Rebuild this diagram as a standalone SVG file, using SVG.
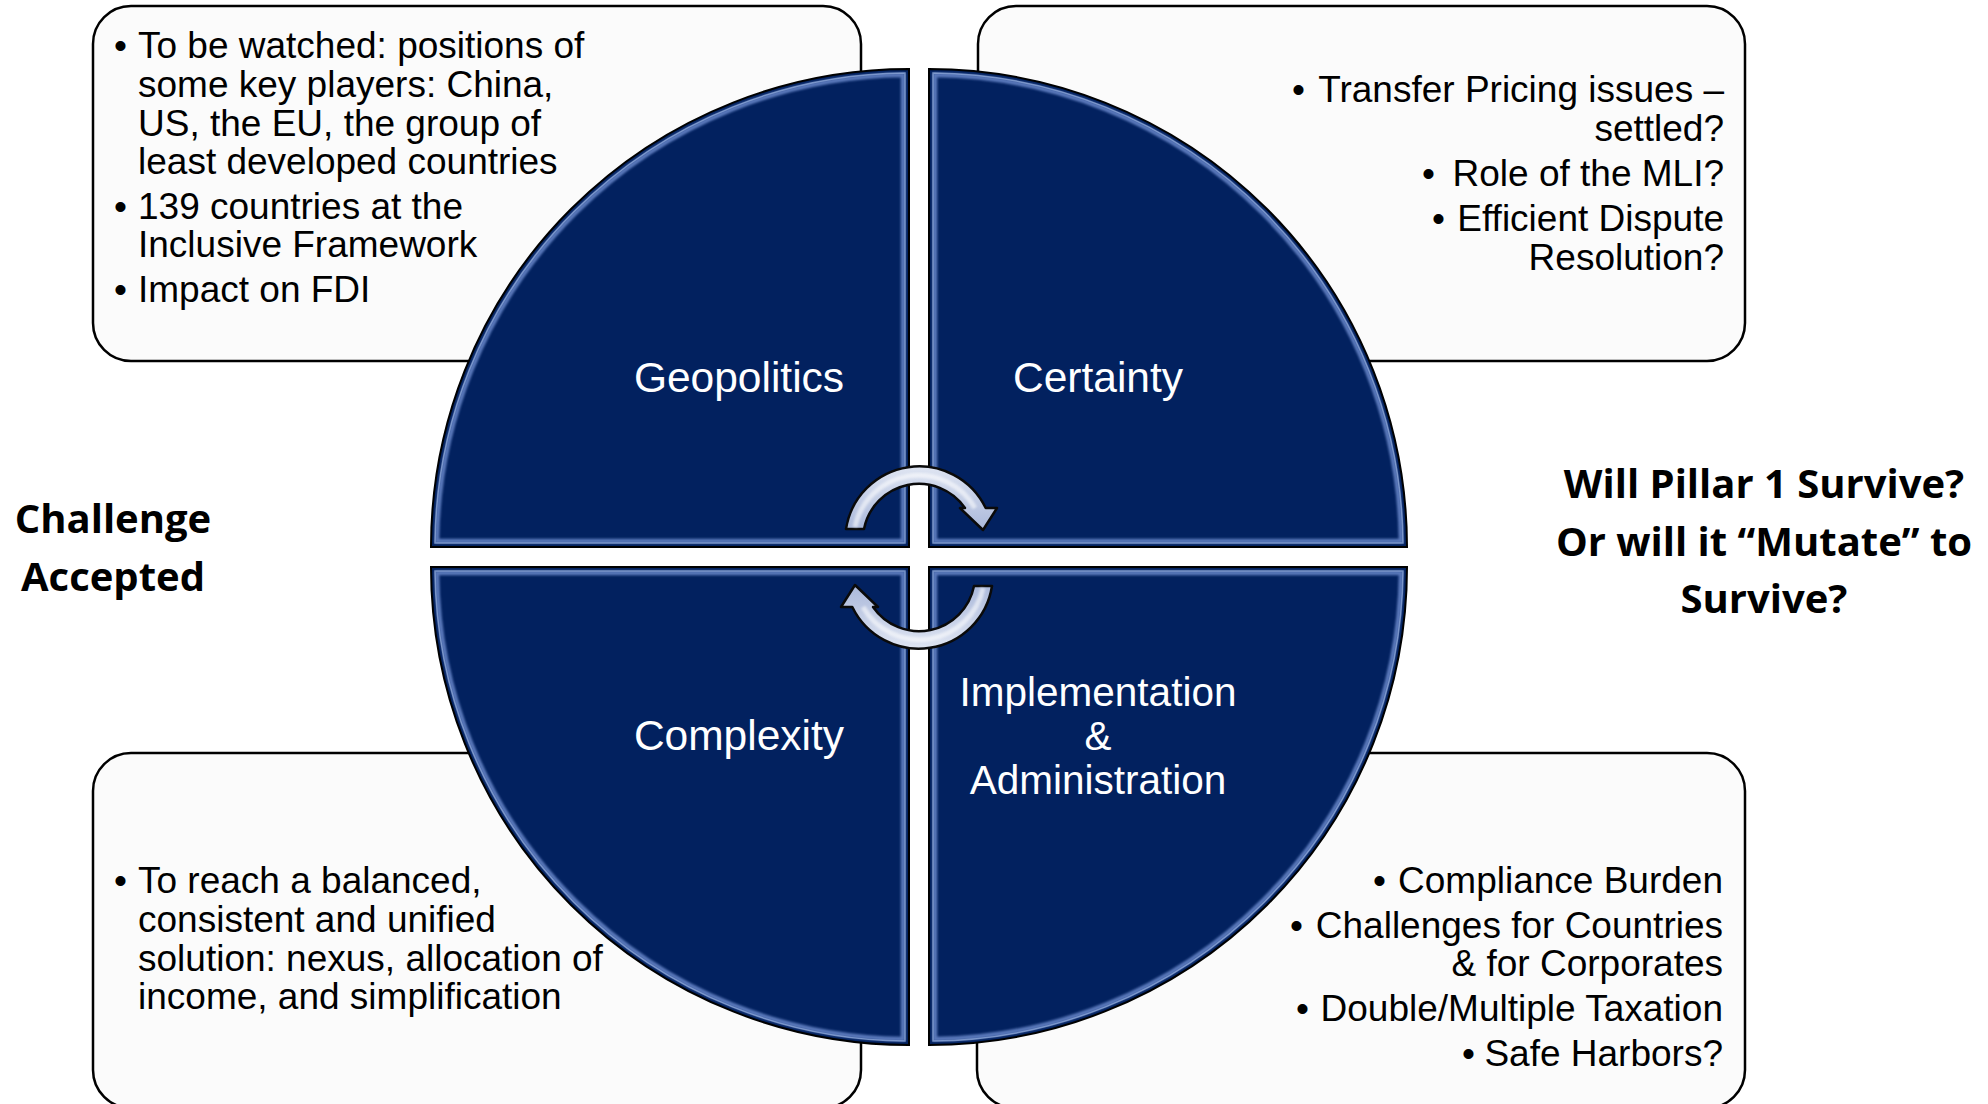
<svg xmlns="http://www.w3.org/2000/svg" width="1988" height="1104" viewBox="0 0 1988 1104">
<style>
.box{fill:#fbfbfb;stroke:#000;stroke-width:2.5}
.pie{fill:#02215f;stroke:#000;stroke-width:2}
.bev{fill:none;stroke:#5877b9;stroke-width:4.5;filter:url(#soft)}
.bev2{fill:none;stroke:#a9c2ef;stroke-width:1.5;opacity:.6}
.t{font-family:"Liberation Sans",Arial,sans-serif;font-size:37px;fill:#000}
.r{text-anchor:end}
.q{font-family:"Liberation Sans",Arial,sans-serif;font-size:42.5px;fill:#fff;text-anchor:middle}
.qs{font-size:40.5px}
.b{font-family:"Open Sans","Liberation Sans",sans-serif;font-weight:700;font-size:40px;fill:#000;text-anchor:middle}
.arr{fill:url(#ag);stroke:#0a0a0a;stroke-width:2.5;stroke-linejoin:round}
.hl{fill:none;stroke:#fff;stroke-width:5;opacity:.55;filter:url(#soft)}
</style>
<defs>
<filter id="soft" x="-5%" y="-5%" width="110%" height="110%"><feGaussianBlur stdDeviation="1.3"/></filter>
<linearGradient id="ag" x1="0" y1="0" x2="0" y2="1">
<stop offset="0" stop-color="#dfe5f2"/>
<stop offset="1" stop-color="#aab8da"/>
</linearGradient>
<clipPath id="cTL"><path d="M909,547 L909,69 A478,478 0 0 0 431,547 Z"/></clipPath>
<clipPath id="cTR"><path d="M929,547 L929,69 A478,478 0 0 1 1407,547 Z"/></clipPath>
<clipPath id="cBL"><path d="M909,567 L431,567 A478,478 0 0 0 909,1045 Z"/></clipPath>
<clipPath id="cBR"><path d="M929,567 L1407,567 A478,478 0 0 1 929,1045 Z"/></clipPath>
</defs>

<g id="box-tl">
<rect class="box" x="93" y="6" width="768" height="355" rx="38"/>
<text class="t" x="114" y="58">•</text>
<text class="t" x="138" y="58">To be watched: positions of</text>
<text class="t" x="138" y="97">some key players: China,</text>
<text class="t" x="138" y="136">US, the EU, the group of</text>
<text class="t" x="138" y="174">least developed countries</text>
<text class="t" x="114" y="219">•</text>
<text class="t" x="138" y="219">139 countries at the</text>
<text class="t" x="138" y="257">Inclusive Framework</text>
<text class="t" x="114" y="302">•</text>
<text class="t" x="138" y="302">Impact on FDI</text>
</g>

<g id="box-tr">
<rect class="box" x="978" y="6" width="767" height="355" rx="38"/>
<text class="t" x="1292" y="102">•</text>
<text class="t r" x="1724" y="102">Transfer Pricing issues –</text>
<text class="t r" x="1724" y="141">settled?</text>
<text class="t" x="1422" y="186">•</text>
<text class="t r" x="1724" y="186">Role of the MLI?</text>
<text class="t" x="1432" y="231">•</text>
<text class="t r" x="1724" y="231">Efficient Dispute</text>
<text class="t r" x="1724" y="270">Resolution?</text>
</g>

<g id="box-bl">
<rect class="box" x="93" y="753" width="768" height="355" rx="38"/>
<text class="t" x="114" y="893">•</text>
<text class="t" x="138" y="893">To reach a balanced,</text>
<text class="t" x="138" y="932">consistent and unified</text>
<text class="t" x="138" y="971">solution: nexus, allocation of</text>
<text class="t" x="138" y="1009">income, and simplification</text>
</g>

<g id="box-br">
<rect class="box" x="977" y="753" width="768" height="355" rx="38"/>
<text class="t" x="1373" y="893">•</text>
<text class="t r" x="1723" y="893">Compliance Burden</text>
<text class="t" x="1290" y="938">•</text>
<text class="t r" x="1723" y="938">Challenges for Countries</text>
<text class="t r" x="1723" y="976">&amp; for Corporates</text>
<text class="t" x="1296" y="1021">•</text>
<text class="t r" x="1723" y="1021">Double/Multiple Taxation</text>
<text class="t" x="1462" y="1066">•</text>
<text class="t r" x="1723" y="1066">Safe Harbors?</text>
</g>

<g id="quad-geopolitics">
<path class="pie" d="M909,547 L909,69 A478,478 0 0 0 431,547 Z"/>
<g clip-path="url(#cTL)">
<path class="bev" d="M903,541 L903,75 A472,472 0 0 0 437,541 Z"/>
<path class="bev2" d="M905,543 L905,73 A474,474 0 0 0 435,543 Z"/>
</g>
<text class="q" x="739" y="392">Geopolitics</text>
</g>

<g id="quad-certainty">
<path class="pie" d="M929,547 L929,69 A478,478 0 0 1 1407,547 Z"/>
<g clip-path="url(#cTR)">
<path class="bev" d="M935,541 L935,75 A472,472 0 0 1 1401,541 Z"/>
<path class="bev2" d="M933,543 L933,73 A474,474 0 0 1 1403,543 Z"/>
</g>
<text class="q" x="1098" y="392">Certainty</text>
</g>

<g id="quad-complexity">
<path class="pie" d="M909,567 L431,567 A478,478 0 0 0 909,1045 Z"/>
<g clip-path="url(#cBL)">
<path class="bev" d="M903,573 L437,573 A472,472 0 0 0 903,1039 Z"/>
<path class="bev2" d="M905,571 L435,571 A474,474 0 0 0 905,1041 Z"/>
</g>
<text class="q" x="739" y="750">Complexity</text>
</g>

<g id="quad-implementation">
<path class="pie" d="M929,567 L1407,567 A478,478 0 0 1 929,1045 Z"/>
<g clip-path="url(#cBR)">
<path class="bev" d="M935,573 L1401,573 A472,472 0 0 1 935,1039 Z"/>
<path class="bev2" d="M933,571 L1403,571 A474,474 0 0 1 933,1041 Z"/>
</g>
<text class="q qs" x="1098" y="706">Implementation</text>
<text class="q qs" x="1098" y="750">&amp;</text>
<text class="q qs" x="1098" y="794">Administration</text>
</g>

<g id="connectors">
<g id="arrow-top">
<path class="arr" d="M846,529 A74,74 0 0 1 985.7,508 L997,508 L983,530 L960,508 L965,508 A56,56 0 0 0 864,529 Z"/>
<path class="hl" d="M855,527 A65,65 0 0 1 975,508"/>
</g>
<g id="arrow-bottom" transform="rotate(180 919 557.5)">
<path class="arr" d="M846,529 A74,74 0 0 1 985.7,508 L997,508 L983,530 L960,508 L965,508 A56,56 0 0 0 864,529 Z"/>
<path class="hl" d="M855,527 A65,65 0 0 1 975,508"/>
</g>
</g>

<g id="label-challenge">
<text class="b" x="113" y="533">Challenge</text>
<text class="b" x="113" y="591">Accepted</text>
</g>

<g id="label-pillar">
<text class="b" x="1764" y="498">Will Pillar 1 Survive?</text>
<text class="b" x="1764" y="556">Or will it “Mutate” to</text>
<text class="b" x="1764" y="613">Survive?</text>
</g>
</svg>
